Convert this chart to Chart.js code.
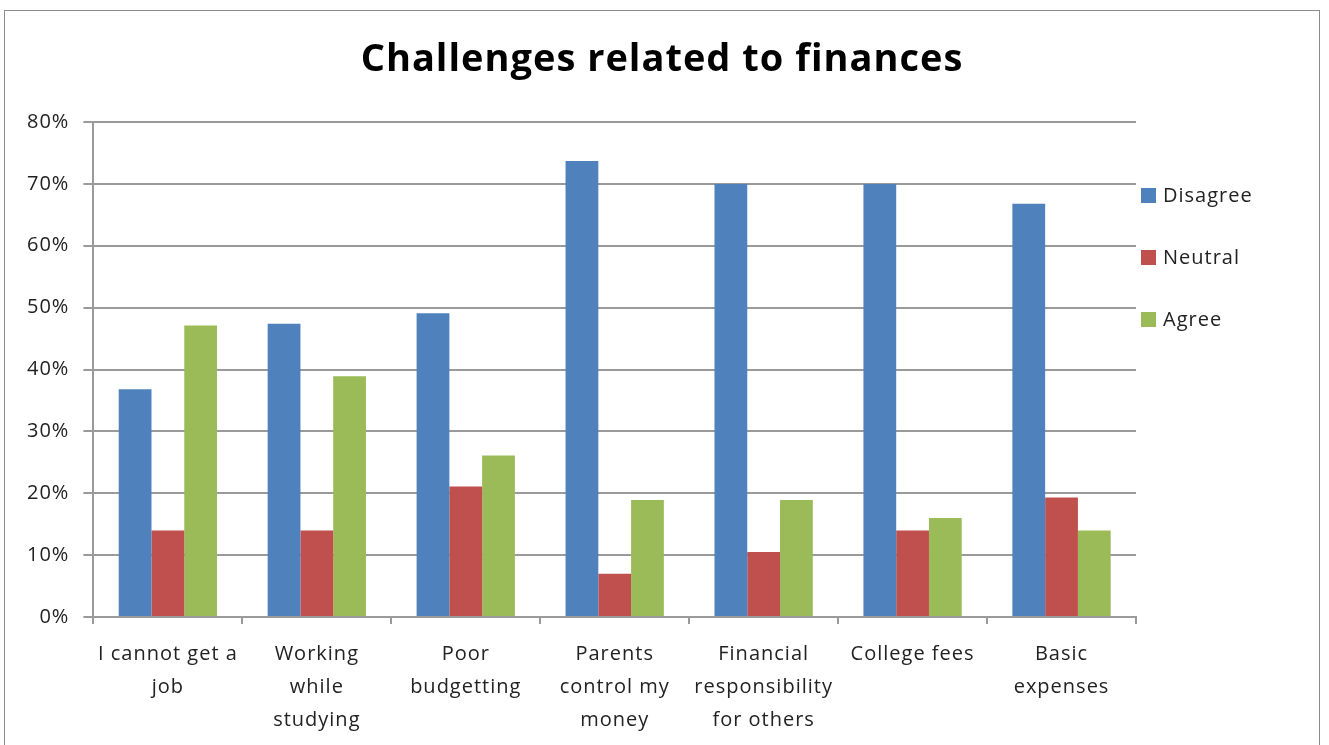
<!DOCTYPE html>
<html>
<head>
<meta charset="utf-8">
<title>Challenges related to finances</title>
<script src="https://cdn.jsdelivr.net/npm/chart.js@4.4.1/dist/chart.umd.min.js"></script>
<style>
  html, body { margin: 0; padding: 0; background: #fff; overflow: hidden; height: 745px; }
  #frame { position: absolute; left: 4px; top: 10px; width: 1316px; height: 760px; border: 1.5px solid #8c8c8c; box-sizing: border-box; }
  #wrap { position: absolute; left: 0; top: 0; width: 1329px; height: 751px; }
</style>
</head>
<body>
<div id="frame"></div>
<div id="wrap"><canvas id="chart"></canvas></div>
<script>
const categories = [
  ["I cannot get a", "job"],
  ["Working", "while", "studying"],
  ["Poor", "budgetting"],
  ["Parents", "control my", "money"],
  ["Financial", "responsibility", "for others"],
  ["College fees"],
  ["Basic", "expenses"]
]
const disagree = [36.8, 47.4, 49.1, 73.7, 70.0, 70.0, 66.8]
const neutral = [14.0, 14.0, 21.1, 7.0, 10.5, 14.0, 19.3]
const agree = [47.1, 38.9, 26.1, 18.9, 18.9, 16.0, 14.0]
const yTicks = [0, 10, 20, 30, 40, 50, 60, 70, 80]

const chartTitle = "Challenges related to finances"
const fontFamily = "'Open Sans', sans-serif"
const gridColor = "#9a9a9a"
const textColor = "#222"

// Excel's Calibri comes out wide, so open up the letters a little
const spacing = {
  id: "spacing",
  beforeLayout(chart) { chart.ctx.letterSpacing = "1px" },
  beforeDraw(chart) { chart.ctx.letterSpacing = "1px" }
}

// title and legend drawn by hand so they sit where Excel put them
const decorations = {
  id: "decorations",
  afterDraw(chart) {
    const { ctx, chartArea } = chart
    ctx.save()
    ctx.fillStyle = "#000"
    ctx.letterSpacing = "1px"
    ctx.font = `bold 38px ${fontFamily}`
    ctx.textAlign = "center"
    ctx.textBaseline = "middle"
    ctx.fillText(chartTitle, 662, 60)

    ctx.letterSpacing = "1px"
    ctx.font = `20px ${fontFamily}`
    ctx.textAlign = "left"
    chart.data.datasets.forEach((ds, i) => {
      const y = chartArea.top + 73.5 + i * 62
      ctx.fillStyle = ds.backgroundColor
      ctx.fillRect(1141, y - 7.5, 15, 15)
      ctx.fillStyle = textColor
      ctx.fillText(ds.label, 1163, y + 1)
    })
    ctx.restore()
  }
}

new Chart(document.getElementById("chart"), {
  type: "bar",
  data: {
    labels: categories,
    datasets: [
      { label: "Disagree", data: disagree, backgroundColor: "#4F81BD" },
      { label: "Neutral", data: neutral, backgroundColor: "#C0504D" },
      { label: "Agree", data: agree, backgroundColor: "#9BBB59" }
    ]
  },
  options: {
    responsive: true,
    maintainAspectRatio: false,
    animation: false,
    layout: { padding: { left: 13, right: 193, top: 122, bottom: 0 } },
    datasets: { bar: { categoryPercentage: 0.66, barPercentage: 1.0 } },
    plugins: {
      legend: { display: false },
      title: { display: false },
      tooltip: { enabled: false }
    },
    scales: {
      x: {
        grid: { drawOnChartArea: false, drawTicks: true, tickLength: 7, color: gridColor, lineWidth: 2 },
        border: { color: gridColor, width: 2 },
        ticks: {
          color: textColor,
          font: { family: fontFamily, size: 20, lineHeight: 1.65 },
          maxRotation: 0, minRotation: 0, autoSkip: false, padding: 14
        }
      },
      y: {
        min: 0, max: 80,
        afterBuildTicks(scale) { scale.ticks = yTicks.map(v => ({ value: v })) },
        grid: { color: gridColor, tickLength: 10, lineWidth: 2 },
        border: { color: gridColor, width: 2 },
        ticks: {
          color: textColor,
          font: { family: fontFamily, size: 20 },
          padding: 14,
          callback: v => v + "%"
        }
      }
    }
  },
  plugins: [spacing, decorations]
})
</script>
</body>
</html>
